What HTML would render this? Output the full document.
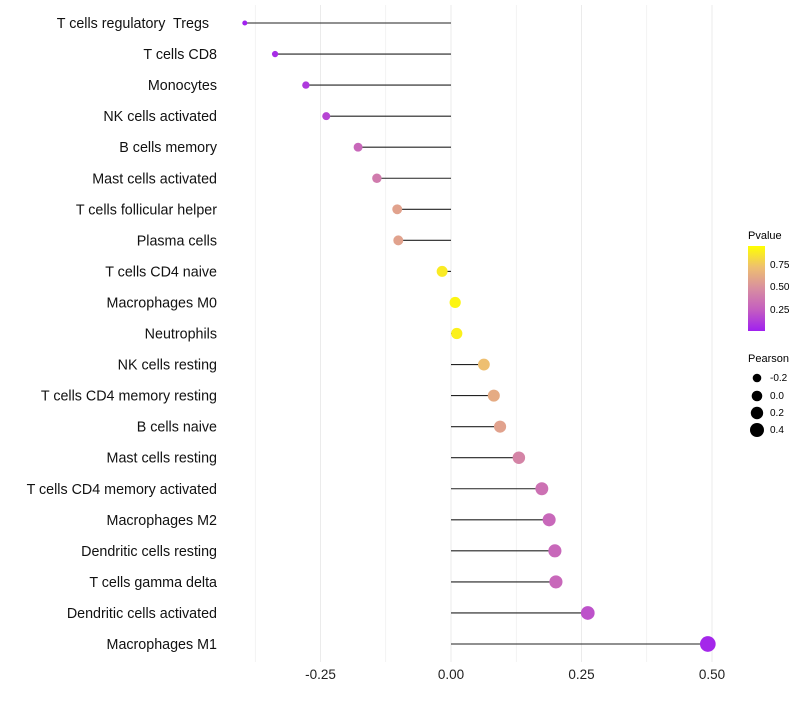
<!DOCTYPE html>
<html><head><meta charset="utf-8"><style>
body{margin:0;background:#fff;font-family:"Liberation Sans",sans-serif}
text{white-space:pre}
</style></head><body>
<svg id="chart" width="800" height="700" xmlns="http://www.w3.org/2000/svg">
<defs><linearGradient id="pg" x1="0" y1="1" x2="0" y2="0">
<stop offset="0" stop-color="#a020f0"/><stop offset="0.25" stop-color="#c45ec0"/><stop offset="0.5" stop-color="#d88ea0"/><stop offset="0.75" stop-color="#eebf70"/><stop offset="1" stop-color="#ffff00"/>
</linearGradient></defs>
<g id="grid"></g><g id="marks"></g><g id="labels"></g>
<g font-size="10">
<text x="748" y="239" font-size="11">Pvalue</text>
<rect x="748" y="246" width="17" height="85" fill="url(#pg)"/>
<text x="770" y="268">0.75</text><text x="770" y="290">0.50</text><text x="770" y="313">0.25</text>
</g>
<g font-size="10">
<text x="748" y="362" font-size="11">Pearson</text>
<circle cx="757" cy="378" r="4.3"/><text x="770" y="381">-0.2</text>
<circle cx="757" cy="396" r="5.3"/><text x="770" y="399">0.0</text>
<circle cx="757" cy="413" r="6.2"/><text x="770" y="416">0.2</text>
<circle cx="757" cy="430" r="7"/><text x="770" y="433">0.4</text>
</g>
</svg>
<script>
const categories=["T cells regulatory  Tregs  ","T cells CD8","Monocytes","NK cells activated","B cells memory","Mast cells activated","T cells follicular helper","Plasma cells","T cells CD4 naive","Macrophages M0","Neutrophils","NK cells resting","T cells CD4 memory resting","B cells naive","Mast cells resting","T cells CD4 memory activated","Macrophages M2","Dendritic cells resting","T cells gamma delta","Dendritic cells activated","Macrophages M1"];
const pearson=[-0.395,-0.337,-0.278,-0.239,-0.178,-0.142,-0.103,-0.101,-0.017,0.008,0.011,0.063,0.082,0.094,0.130,0.174,0.188,0.199,0.201,0.262,0.492];
const pvalues=[0.01,0.05,0.1,0.15,0.3,0.4,0.6,0.6,0.92,0.96,0.94,0.75,0.65,0.6,0.45,0.35,0.3,0.3,0.3,0.2,0.03];
const ticks=[-0.25,0,0.25,0.5];
const tickLabels=["-0.25","0.00","0.25","0.50"];
const NS="http://www.w3.org/2000/svg";
const x=v=>451+v*522;
const y=i=>23+i*31.05;
const stops=[[160,32,240],[196,94,192],[216,142,160],[238,191,112],[255,255,0]];
function col(p){const t=Math.max(0,Math.min(1,p))*4;const i=Math.min(3,Math.floor(t));const f=t-i;const c=stops[i].map((a,k)=>Math.round(a+(stops[i+1][k]-a)*f));return `rgb(${c})`;}
const rad=v=>Math.sqrt(Math.max(2.5,18.5+(v+0.2)*62));
function mk(tag,attrs,parent){const e=document.createElementNS(NS,tag);for(const k in attrs)e.setAttribute(k,attrs[k]);document.getElementById(parent).appendChild(e);return e;}
[-0.375,-0.25,-0.125,0,0.125,0.25,0.375,0.5].forEach(v=>{
 const l=mk('line',{x1:x(v),x2:x(v),y1:5,y2:662,stroke:'#ebebeb','stroke-width':ticks.includes(v)?1:0.6},'grid');
 
 
});
ticks.forEach((v,i)=>{
 const t=mk('text',{x:x(v),y:679,'text-anchor':'middle','font-size':13.5,fill:'#222'},'labels');
 t.textContent=tickLabels[i];
 
 
});
categories.forEach((c,i)=>{
 const t=mk('text',{x:217,y:y(i)+5,'text-anchor':'end','font-size':14.3,fill:'#111'},'labels');
 t.textContent=c;
 
 
 const l=mk('line',{x1:x(0),x2:x(pearson[i]),y1:y(i),y2:y(i),stroke:'#222','stroke-width':1.1},'marks');
 
 
 const d=mk('circle',{cx:x(pearson[i]),cy:y(i),r:rad(pearson[i]),fill:col(pvalues[i])},'marks');
 
 
});
</script>
</body></html>
